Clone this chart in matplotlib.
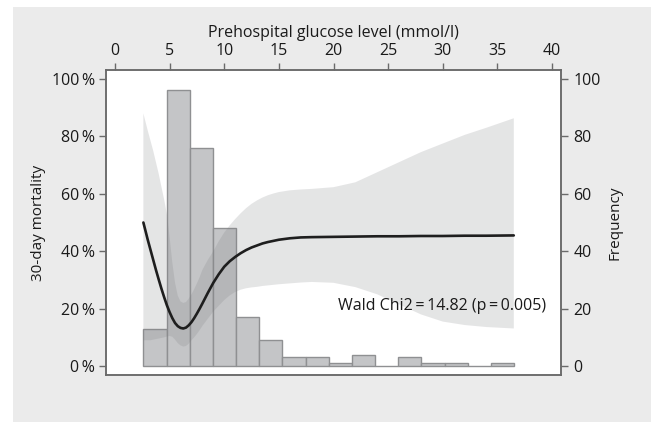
import matplotlib
matplotlib.use("Agg")
import matplotlib.pyplot as plt
from matplotlib.patches import Rectangle
import numpy as np

plt.rcParams['font.family'] = ['Open Sans', 'DejaVu Sans']

# Histogram of prehospital glucose (counts per bin)
bin_start = 2.6
bin_width = 2.12
counts = [13, 96, 76, 48, 17, 9, 3, 3, 1, 4, 0, 3, 1, 1, 0, 1]

# Fitted mortality curve with 95% CI (percent)
glucose = [2.6, 2.8, 3.0, 3.25, 3.5, 3.75, 4.0, 4.25, 4.5, 4.75, 5.0, 5.25, 5.5,
           5.75, 6.0, 6.25, 6.5, 6.75, 7.0, 7.25, 7.5, 7.75, 8.0, 8.5, 9.0, 9.5,
           10.0, 10.5, 11.0, 11.5, 12.0, 12.5, 13.0, 13.5, 14.0, 14.5, 15.0,
           16.0, 17.0, 18.0, 20.0, 22.0, 24.0, 26.0, 28.0, 30.0, 32.0, 34.0, 36.5]
mortality = [50, 47, 44, 40.5, 37, 33.5, 30.2, 27, 24, 21.2,
             18.8, 16.7, 15, 13.9, 13.3, 13.1, 13.4, 14.2, 15.3, 16.7,
             18.3, 20, 21.8, 25.5, 29, 32, 34.6, 36.5, 38, 39.3,
             40.4, 41.3, 42, 42.7, 43.2, 43.6, 44, 44.5, 44.8, 44.9,
             45, 45.1, 45.2, 45.2, 45.3, 45.3, 45.4, 45.4, 45.5]
ci_upper = [88, 85, 82, 78.5, 75, 71, 67, 62.5, 58, 53,
            45, 36, 29, 24.5, 22.5, 22, 22.3, 23.5, 25, 26.8,
            28.8, 31, 33.5, 37, 40, 43.5, 46.5, 49, 51.2, 53.2,
            55, 56.5, 57.7, 58.7, 59.5, 60.1, 60.6, 61.2, 61.5, 61.7,
            62.3, 64, 67.5, 71, 74.5, 77.5, 80.5, 83, 86.3]
ci_lower = [9, 9, 9, 9, 9.2, 9.4, 9.6, 9.8, 10, 10.3,
            10.5, 10.2, 9.2, 8, 7.2, 6.8, 7, 7.8, 9, 10,
            11.2, 12.5, 14, 16.5, 19, 21, 23, 24.6, 25.8, 26.6,
            27.1, 27.4, 27.6, 27.9, 28.1, 28.3, 28.5, 28.8, 29.1, 29.3,
            29, 27.5, 25, 21.5, 18, 15.5, 14.3, 13.6, 13.1]

x_ticks = [0, 5, 10, 15, 20, 25, 30, 35, 40]
y_ticks = [0, 20, 40, 60, 80, 100]
y_left_labels = ['0\u2009%', '20\u2009%', '40\u2009%', '60\u2009%', '80\u2009%', '100\u2009%']
y_right_labels = ['0', '20', '40', '60', '80', '100']
annotation = 'Wald Chi2\u2009=\u200914.82 (p\u2009=\u20090.005)'

W, H = 651, 422
fig = plt.figure(figsize=(W / 100, H / 100), dpi=100, facecolor='white')
fig.patches.append(Rectangle((13 / W, 0), 1 - 13 / W, (H - 7) / H,
                             transform=fig.transFigure, facecolor='#ebebeb',
                             edgecolor='none', zorder=-10))

pos = [106 / W, (H - 375) / H, (561 - 106) / W, (375 - 70) / H]
ax = fig.add_axes(pos)
ax2 = ax.twinx()

# bars on frequency axis (behind)
edges = bin_start + bin_width * np.arange(len(counts))
ax2.bar(edges, counts, width=bin_width, align='edge', color='#c4c5c7',
        edgecolor='#8f9092', linewidth=1.0, zorder=1)
ax2.patch.set_visible(True)
ax2.patch.set_facecolor('white')

ax.set_zorder(ax2.get_zorder() + 1)
ax.patch.set_visible(False)
ax.fill_between(glucose, ci_lower, ci_upper, facecolor='#7c7d80', alpha=0.2,
                edgecolor='none', zorder=2)
ax.plot(glucose, mortality, color='#1e1e1e', lw=1.9, zorder=3,
        solid_capstyle='round', solid_joinstyle='round')
ax.text(39.5, 21, annotation, ha='right', va='center', fontsize=11.5,
        color='#1a1a1a', zorder=4)

xlim = (-0.82, 40.82)
ylim = (-3.1, 103.1)
for a in (ax, ax2):
    a.set_xlim(*xlim)
    a.set_ylim(*ylim)
    for s in a.spines.values():
        s.set_color('#6a6a6a')
        s.set_linewidth(1.1)

ax.xaxis.tick_top()
ax.xaxis.set_label_position('top')
ax.set_xticks(x_ticks)
ax.set_xticklabels([str(t) for t in x_ticks])
ax.set_xlabel('Prehospital glucose level (mmol/l)', fontsize=11.5,
              color='#1a1a1a', labelpad=4)
ax.set_yticks(y_ticks)
ax.set_yticklabels(y_left_labels)
ax.set_ylabel('30-day mortality', fontsize=11, color='#1a1a1a', labelpad=4)
ax2.set_yticks(y_ticks)
ax2.set_yticklabels(y_right_labels)
ax2.set_ylabel('Frequency', fontsize=11, color='#1a1a1a', labelpad=5)

ax.tick_params(axis='both', direction='out', length=5, width=1.0,
               color='#6a6a6a', labelsize=11.5, labelcolor='#1a1a1a', pad=3)
ax2.tick_params(axis='y', direction='out', length=5, width=1.0,
                color='#6a6a6a', labelsize=11.5, labelcolor='#1a1a1a', pad=4)
ax2.tick_params(axis='x', which='both', top=False, bottom=False,
                labeltop=False, labelbottom=False)

fig.savefig('out.png', dpi=100, facecolor=fig.get_facecolor())
